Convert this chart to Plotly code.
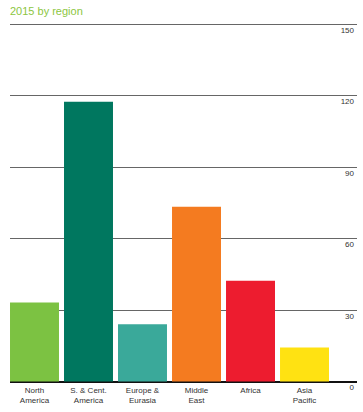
import plotly.graph_objects as go

categories = ["North<br>America", "S. & Cent.<br>America", "Europe &<br>Eurasia",
              "Middle<br>East", "Africa", "Asia<br>Pacific"]
values = [33.2, 117.6, 24.1, 73.5, 42.4, 14.3]
colors = ["#7cc242", "#00775f", "#3aa99a", "#f47b20", "#ed1c2f", "#ffe212"]
y_ticks = [0, 30, 60, 90, 120, 150]
y_tick_labels = ["0", "30", "60", "90", "120", "150"]
title_text = "2015 by region"

fig = go.Figure()
fig.add_trace(go.Bar(
    x=categories, y=values, marker=dict(color=colors, line=dict(width=0)),
    width=0.907, hoverinfo="skip"))

fig.update_layout(
    width=363, height=412,
    margin=dict(l=10, r=6, t=21, b=28),
    paper_bgcolor="white", plot_bgcolor="white",
    showlegend=False,
    font=dict(family="Liberation Sans, Arial, sans-serif", size=8, color="#333333"),
    title=dict(text=title_text, x=10/363, xref="container", xanchor="left",
               y=1-11/412, yref="container", yanchor="middle",
               font=dict(size=11, color="#8cc63f", family="Liberation Sans, Arial, sans-serif")),
    xaxis=dict(range=[-0.4537, 5.972], showgrid=False, zeroline=False,
               showline=False, ticks="", tickfont=dict(size=8, color="#333333")),
    yaxis=dict(range=[-1, 151.5], side="right", tickvals=y_ticks, ticktext=y_tick_labels,
               showgrid=True, gridcolor="#666666", gridwidth=1.3,
               zeroline=True, zerolinecolor="#111111", zerolinewidth=2,
               showline=False, ticks="",
               ticklabelposition="inside bottom", ticklabeloverflow="allow",
               tickfont=dict(size=8, color="#333333")),
)

fig.write_html("out.html")
